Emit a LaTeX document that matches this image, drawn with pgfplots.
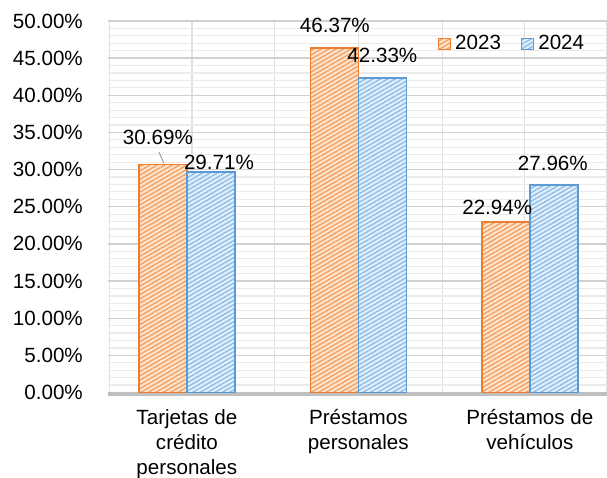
\documentclass[border=0pt]{standalone}
\usepackage{pgfplots}
\pgfplotsset{compat=1.18}
\usepackage{fontspec}
\setmainfont{Liberation Sans}
\usetikzlibrary{patterns.meta}
\definecolor{orgE}{HTML}{ED7D31}
\definecolor{orgF}{HTML}{FDE6D2}
\definecolor{orgL}{HTML}{F7A265}
\definecolor{bluE}{HTML}{5B9BD5}
\definecolor{bluF}{HTML}{E4F0FA}
\definecolor{bluL}{HTML}{92BEEA}
\newcommand\fs{\fontsize{20.6}{25}\selectfont}
\begin{document}
\begin{tikzpicture}
\begin{axis}[
  at={(0pt,0pt)}, anchor=south west,
  scale only axis, width=499pt, height=371.5pt,
  xmin=-0.46, xmax=2.45, ymin=0, ymax=50,
  ybar=0pt, bar width=48pt,
  clip=false,
  axis line style={draw=none},
  major tick length=0pt, minor tick length=0pt,
  xtick={0,1,2},
  xticklabels={{Tarjetas de\\crédito\\personales},{Préstamos\\personales},{Préstamos de\\vehículos}},
  xticklabel style={font=\fs, align=center, anchor=north, inner sep=0pt, yshift=-17pt},
  minor xtick={-0.45,0.03,0.51,1.0,1.49,1.97,2.45},
  xminorgrids=true, xmajorgrids=false,
  ytick={0,5,...,50}, minor y tick num=4,
  ymajorgrids, yminorgrids,
  yticklabel={\pgfmathprintnumber[fixed,fixed zerofill,precision=2,assume math mode=true]{\tick}\%},
  yticklabel style={font=\fs, anchor=east, inner sep=0pt, xshift=-25pt},
  major y grid style={color=black!18, line width=1.3pt},
  minor y grid style={color=black!8, line width=1.2pt},
  minor x grid style={color=black!12, line width=1.2pt},
  legend columns=2,
  legend style={at={(0.6613,0.9394)}, anchor=west, draw=none, fill=none,
    inner sep=0pt, outer sep=0pt, row sep=0pt, column sep=0pt, font=\fs,
    nodes={inner sep=0pt},
    /tikz/every even column/.append style={column sep=20pt}},
  legend image code/.code={\draw[#1, line width=1pt] (0pt,-5.5pt) rectangle (12pt,5.5pt); \path (16pt,0pt);},
]
\draw[line width=4pt, black!25] ([yshift=-1.5pt]axis cs:-0.46,0) -- ([yshift=-1.5pt]axis cs:2.45,0);
\addplot[draw=orgE, line width=1.5pt, fill=orgF,
  postaction={pattern={Lines[angle=30,distance=3.7pt,line width=1.5pt]}, pattern color=orgL}]
  coordinates {(0,30.69) (1,46.37) (2,22.94)};
\addplot[draw=bluE, line width=1.5pt, fill=bluF,
  postaction={pattern={Lines[angle=30,distance=3.7pt,line width=1.5pt]}, pattern color=bluL}]
  coordinates {(0,29.71) (1,42.33) (2,27.96)};
\legend{2023,2024}
\draw[black!45, line width=0.8pt] (axis cs:-0.163,32.36) -- (axis cs:-0.134,30.88);
\node[font=\fs] at (axis cs:-0.169,34.39) {30.69\%};
\node[font=\fs] at (axis cs:0.187,31.02) {29.71\%};
\node[font=\fs] at (axis cs:0.863,49.46) {46.37\%};
\node[font=\fs] at (axis cs:1.140,45.36) {42.33\%};
\node[font=\fs] at (axis cs:1.810,24.97) {22.94\%};
\node[font=\fs] at (axis cs:2.134,30.89) {27.96\%};
\end{axis}
\pgfresetboundingbox
\path (-108pt,-85.5pt) rectangle (499pt,392.5pt);
\end{tikzpicture}
\end{document}
